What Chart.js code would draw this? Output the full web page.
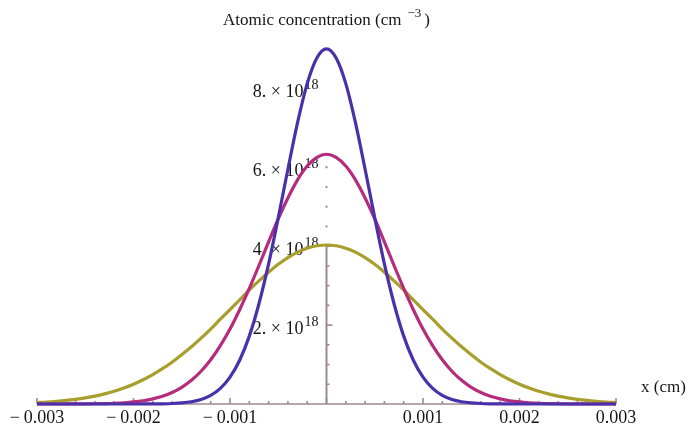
<!DOCTYPE html>
<html>
<head>
<meta charset="utf-8">
<title>Atomic concentration</title>
<script src="https://cdn.jsdelivr.net/npm/chart.js@4.4.0/dist/chart.umd.min.js"></script>
<style>
    html, body { margin: 0; padding: 0; background: #ffffff; }
    #wrap { width: 698px; height: 430px; position: relative; }
</style>
</head>
<body>
<div id="wrap"><canvas id="chart"></canvas></div>
<script>
// x positions in cm
const xPositions = [
    -0.0030, -0.0029, -0.0028, -0.0027, -0.0026, -0.0025, -0.0024, -0.0023, -0.0022, -0.0021,
    -0.0020, -0.0019, -0.0018, -0.0017, -0.0016, -0.0015, -0.0014, -0.0013, -0.0012, -0.0011,
    -0.0010, -0.0009, -0.0008, -0.0007, -0.0006, -0.0005, -0.0004, -0.0003, -0.0002, -0.0001,
    0,
    0.0001, 0.0002, 0.0003, 0.0004, 0.0005, 0.0006, 0.0007, 0.0008, 0.0009, 0.0010,
    0.0011, 0.0012, 0.0013, 0.0014, 0.0015, 0.0016, 0.0017, 0.0018, 0.0019, 0.0020,
    0.0021, 0.0022, 0.0023, 0.0024, 0.0025, 0.0026, 0.0027, 0.0028, 0.0029, 0.0030
];

// concentrations, in units of 10^18 cm^-3
const blueSeries = [
    0, 0, 0, 0, 0, 0, 0, 0, 0, 0,
    0, 0.001, 0.002, 0.005, 0.012, 0.027, 0.057, 0.114, 0.218, 0.395,
    0.68, 1.11, 1.72, 2.54, 3.55, 4.72, 5.95, 7.13, 8.12, 8.77,
    9.00,
    8.77, 8.12, 7.13, 5.95, 4.72, 3.55, 2.54, 1.72, 1.11, 0.68,
    0.395, 0.218, 0.114, 0.057, 0.027, 0.012, 0.005, 0.002, 0.001, 0,
    0, 0, 0, 0, 0, 0, 0, 0, 0, 0
];
const magentaSeries = [
    0, 0, 0, 0.001, 0.002, 0.003, 0.006, 0.011, 0.019, 0.032,
    0.052, 0.083, 0.129, 0.196, 0.292, 0.423, 0.60, 0.83, 1.12, 1.48,
    1.90, 2.39, 2.93, 3.51, 4.11, 4.69, 5.22, 5.68, 6.03, 6.25,
    6.33,
    6.25, 6.03, 5.68, 5.22, 4.69, 4.11, 3.51, 2.93, 2.39, 1.90,
    1.48, 1.12, 0.83, 0.60, 0.423, 0.292, 0.196, 0.129, 0.083, 0.052,
    0.032, 0.019, 0.011, 0.006, 0.003, 0.002, 0.001, 0, 0, 0
];
const oliveSeries = [
    0.037, 0.050, 0.068, 0.090, 0.119, 0.156, 0.201, 0.257, 0.324, 0.406,
    0.502, 0.615, 0.746, 0.895, 1.06, 1.25, 1.45, 1.67, 1.90, 2.15,
    2.39, 2.64, 2.89, 3.12, 3.34, 3.54, 3.71, 3.85, 3.95, 4.01,
    4.03,
    4.01, 3.95, 3.85, 3.71, 3.54, 3.34, 3.12, 2.89, 2.64, 2.39,
    2.15, 1.90, 1.67, 1.45, 1.25, 1.06, 0.895, 0.746, 0.615, 0.502,
    0.406, 0.324, 0.257, 0.201, 0.156, 0.119, 0.090, 0.068, 0.050, 0.037
];

// tick labels
const xTickValues = [-0.003, -0.002, -0.001, 0.001, 0.002, 0.003];
const xTickLabels = ["\u2212\u20090.003", "\u2212\u20090.002", "\u2212\u20090.001", "0.001", "0.002", "0.003"];
const yTickValues = [2, 4, 6, 8];
const yTickLabels = ["2.", "4.", "6.", "8."];
const yTickExponent = "18";

const axisColor = "#9c8894";
const textColor = "#151515";
const serif = '"Liberation Serif", "Times New Roman", serif';

const mmaAxes = {
    id: "mmaAxes",
    beforeDatasetsDraw(chart) {
        const { ctx, scales: { x, y } } = chart;
        const x0 = x.getPixelForValue(0);
        const y0 = y.getPixelForValue(0);

        ctx.save();
        ctx.strokeStyle = axisColor;
        ctx.lineWidth = 1.6;

        // horizontal axis
        ctx.beginPath();
        ctx.moveTo(x.getPixelForValue(-0.003), y0);
        ctx.lineTo(x.getPixelForValue(0.003), y0);
        ctx.stroke();

        // x ticks, every 0.0002, longer at each 0.001
        for (let i = -15; i <= 15; i++) {
            const px = x.getPixelForValue(i * 0.0002);
            const len = (i % 5 === 0) ? 6 : 3;
            ctx.beginPath();
            ctx.moveTo(px, y0);
            ctx.lineTo(px, y0 - len);
            ctx.stroke();
        }

        // vertical axis: solid up to the olive peak, only tick marks above
        ctx.lineWidth = 2;
        ctx.beginPath();
        ctx.moveTo(x0, y0);
        ctx.lineTo(x0, y.getPixelForValue(4.05));
        ctx.stroke();

        ctx.lineWidth = 1.6;
        for (let i = 1; i <= 12; i++) {
            const py = y.getPixelForValue(i * 0.5);
            if (i * 0.5 <= 4) {
                const len = (i % 4 === 0) ? 6 : 3;
                ctx.beginPath();
                ctx.moveTo(x0, py);
                ctx.lineTo(x0 + len, py);
                ctx.stroke();
            } else {
                ctx.fillStyle = axisColor;
                ctx.fillRect(x0 - 1, py - 1, 2, 2);
            }
        }

        // x tick labels
        ctx.fillStyle = textColor;
        ctx.font = "18px " + serif;
        ctx.textAlign = "center";
        ctx.textBaseline = "alphabetic";
        xTickValues.forEach((v, i) => {
            ctx.fillText(xTickLabels[i], x.getPixelForValue(v), y0 + 19);
        });

        // y tick labels like "8. × 10^18"
        yTickValues.forEach((v, i) => {
            const py = y.getPixelForValue(v);
            const right = x0 - 8;
            ctx.textAlign = "right";
            ctx.font = "14px " + serif;
            ctx.fillText(yTickExponent, right, py + 1);
            const expW = ctx.measureText(yTickExponent).width;
            ctx.font = "18px " + serif;
            ctx.fillText(yTickLabels[i] + " \u00d7 10", right - expW - 1, py + 9);
        });

        // axis titles
        ctx.textAlign = "left";
        ctx.font = "17px " + serif;
        const t1 = "Atomic concentration (cm";
        const t1w = ctx.measureText(t1).width;
        ctx.font = "13px " + serif;
        const supW = ctx.measureText("\u22123").width;
        ctx.font = "17px " + serif;
        const totalW = t1w + 6 + supW + 3 + ctx.measureText(")").width;
        let tx = x0 - totalW / 2;
        ctx.fillText(t1, tx, 25);
        tx += t1w + 6;
        ctx.font = "13px " + serif;
        ctx.fillText("\u22123", tx, 17);
        tx += supW + 3;
        ctx.font = "17px " + serif;
        ctx.fillText(")", tx, 25);

        ctx.fillText("x (cm)", x.getPixelForValue(0.003) + 25, y0 - 12);
        ctx.restore();
    }
};

function series(values, color) {
    return {
        data: xPositions.map((xv, i) => ({ x: xv, y: values[i] })),
        borderColor: color,
        backgroundColor: color,
        borderWidth: 3.2,
        pointRadius: 0,
        cubicInterpolationMode: "monotone",
        fill: false,
        clip: false
    };
}

const ctx = document.getElementById("chart").getContext("2d");
new Chart(ctx, {
    type: "line",
    data: {
        datasets: [
            series(blueSeries, "#4a30aa"),
            series(magentaSeries, "#b42c7c"),
            series(oliveSeries, "#a89e2c")
        ]
    },
    options: {
        responsive: true,
        maintainAspectRatio: false,
        animation: false,
        layout: { padding: { left: 37, right: 82, top: 41, bottom: 26 } },
        plugins: {
            legend: { display: false },
            tooltip: { enabled: false }
        },
        scales: {
            x: { type: "linear", min: -0.003, max: 0.003, display: false },
            y: { type: "linear", min: 0, max: 9.2, display: false }
        }
    },
    plugins: [mmaAxes]
});
</script>
</body>
</html>
